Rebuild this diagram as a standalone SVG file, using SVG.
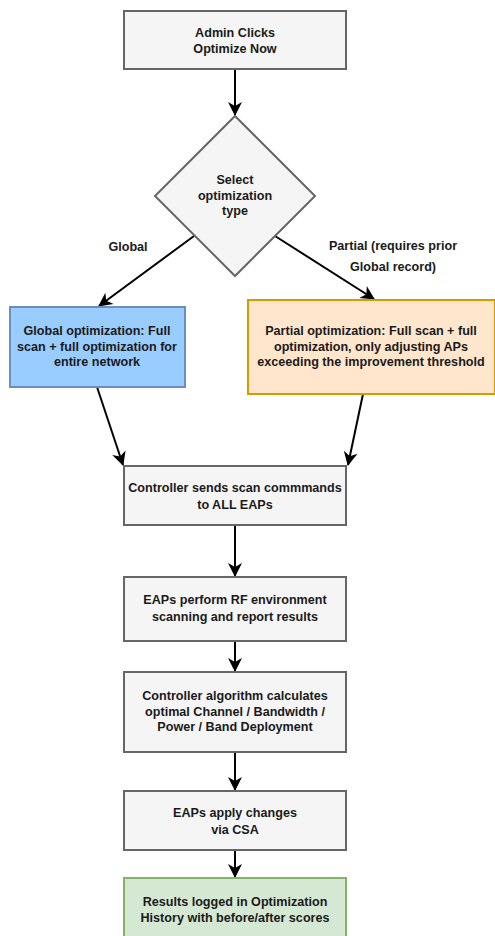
<svg xmlns="http://www.w3.org/2000/svg" width="495" height="936" viewBox="0 0 495 936">
<style>
.box{fill:#f5f5f5;stroke:#666666;stroke-width:2}
.t{font-family:"Liberation Sans",Arial,sans-serif;font-size:12.6px;font-weight:bold;fill:#1a1a1a;text-anchor:middle}
.c{fill:none;stroke:#000;stroke-width:2;marker-end:url(#ah)}
</style>
<defs>
<marker id="ah" markerUnits="userSpaceOnUse" markerWidth="16" markerHeight="16" viewBox="0 0 16 16" refX="14" refY="8" orient="auto">
<path d="M1,1 L15,8 L1,15 L5,8 Z" fill="#000"/>
</marker>
</defs>
<rect width="495" height="936" fill="#fff"/>
<g id="connectors">
<path class="c" d="M235,69 L235,115"/>
<path class="c" d="M194,236 L99,306"/>
<path class="c" d="M275,236 L374,299"/>
<path class="c" d="M97,387 L123,465"/>
<path class="c" d="M363,394 L348,465"/>
<path class="c" d="M235,525 L235,576"/>
<path class="c" d="M235,641 L235,671"/>
<path class="c" d="M235,752 L235,790"/>
<path class="c" d="M235,850 L235,877"/>
<text class="t" x="128" y="251">Global</text>
<text class="t" x="393" y="250">Partial (requires prior</text>
<text class="t" x="393" y="271">Global record)</text>
</g>
<g id="start">
<rect class="box" x="124" y="11" width="222" height="58"/>
<text class="t" x="235" y="37">Admin Clicks</text>
<text class="t" x="235" y="53">Optimize Now</text>
</g>
<g id="decision">
<polygon class="box" points="235,116 315,196 235,276 155,196"/>
<text class="t" x="235" y="184">Select</text>
<text class="t" x="235" y="200">optimization</text>
<text class="t" x="235" y="215">type</text>
</g>
<g id="global">
<rect x="10" y="307" width="175" height="80" fill="#99ccff" stroke="#6c8ebf" stroke-width="2"/>
<text class="t" x="97" y="335">Global optimization: Full</text>
<text class="t" x="97" y="351">scan + full optimization for</text>
<text class="t" x="97" y="366">entire network</text>
</g>
<g id="partial">
<rect x="248" y="300" width="247" height="94" fill="#ffe6cc" stroke="#d79b00" stroke-width="2"/>
<text class="t" x="371" y="335">Partial optimization: Full scan + full</text>
<text class="t" x="371" y="351">optimization, only adjusting APs</text>
<text class="t" x="371" y="366">exceeding the improvement threshold</text>
</g>
<g id="scan-cmd">
<rect class="box" x="124" y="466" width="222" height="59"/>
<text class="t" x="235" y="492">Controller sends scan commmands</text>
<text class="t" x="235" y="509">to ALL EAPs</text>
</g>
<g id="rf-scan">
<rect class="box" x="124" y="577" width="222" height="64"/>
<text class="t" x="235" y="604">EAPs perform RF environment</text>
<text class="t" x="235" y="621">scanning and report results</text>
</g>
<g id="algorithm">
<rect class="box" x="124" y="672" width="222" height="80"/>
<text class="t" x="235" y="700">Controller algorithm calculates</text>
<text class="t" x="235" y="716">optimal Channel / Bandwidth /</text>
<text class="t" x="235" y="731">Power / Band Deployment</text>
</g>
<g id="apply">
<rect class="box" x="124" y="791" width="222" height="59"/>
<text class="t" x="235" y="817">EAPs apply changes</text>
<text class="t" x="235" y="834">via CSA</text>
</g>
<g id="results">
<rect x="124" y="878" width="222" height="70" fill="#d5e8d4" stroke="#82b366" stroke-width="2"/>
<text class="t" x="235" y="906">Results logged in Optimization</text>
<text class="t" x="235" y="922">History with before/after scores</text>
</g>
</svg>
